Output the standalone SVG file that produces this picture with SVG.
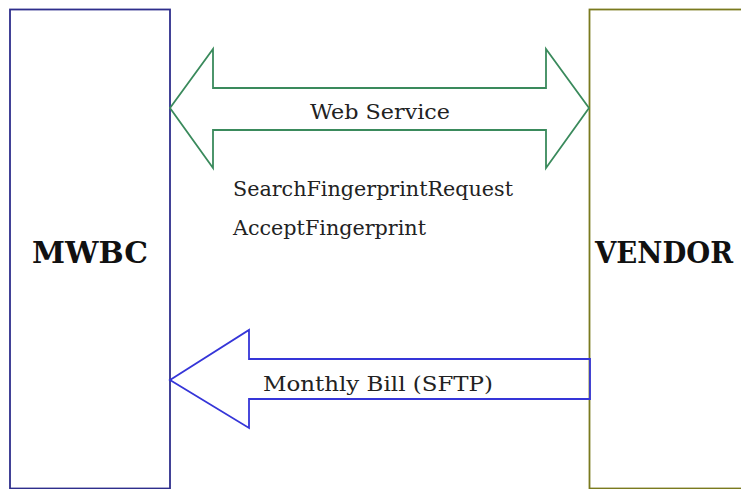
<svg xmlns="http://www.w3.org/2000/svg" width="741" height="489" viewBox="0 0 741 489">
<style>
.lbl{font-family:"DejaVu Serif","Liberation Serif",serif;fill:#222;font-size:21px}
.big{font-family:"DejaVu Serif","Liberation Serif",serif;fill:#111;font-size:30px;font-weight:bold}
</style>
<rect width="741" height="489" fill="#fff"/>
<g id="mwbc">
<rect x="10" y="9.5" width="160" height="479" fill="#fff" stroke="#2e2e8c" stroke-width="1.8"/>
<text class="big" x="32" y="263" textLength="116" lengthAdjust="spacingAndGlyphs">MWBC</text>
</g>
<g id="vendor">
<rect x="589.5" y="9.5" width="170" height="479" fill="#fff" stroke="#7a7a1e" stroke-width="1.8"/>
<text class="big" x="595" y="263" textLength="138" lengthAdjust="spacingAndGlyphs">VENDOR</text>
</g>
<g id="connectors">
<polygon points="170,108 213,49 213,88 546,88 546,49 589,108 546,168 546,130 213,130 213,168" fill="none" stroke="#3a8a5c" stroke-width="1.8" stroke-linejoin="miter"/>
<text class="lbl" x="310" y="119" textLength="140" lengthAdjust="spacingAndGlyphs">Web Service</text>
<polygon points="170,380 249,330 249,359 590,359 590,399 249,399 249,428" fill="none" stroke="#3535d8" stroke-width="1.8"/>
<text class="lbl" x="263" y="391" textLength="230" lengthAdjust="spacingAndGlyphs">Monthly Bill (SFTP)</text>
<text class="lbl" x="233" y="196" textLength="280" lengthAdjust="spacingAndGlyphs">SearchFingerprintRequest</text>
<text class="lbl" x="233" y="235" textLength="193" lengthAdjust="spacingAndGlyphs">AcceptFingerprint</text>
</g>
</svg>
